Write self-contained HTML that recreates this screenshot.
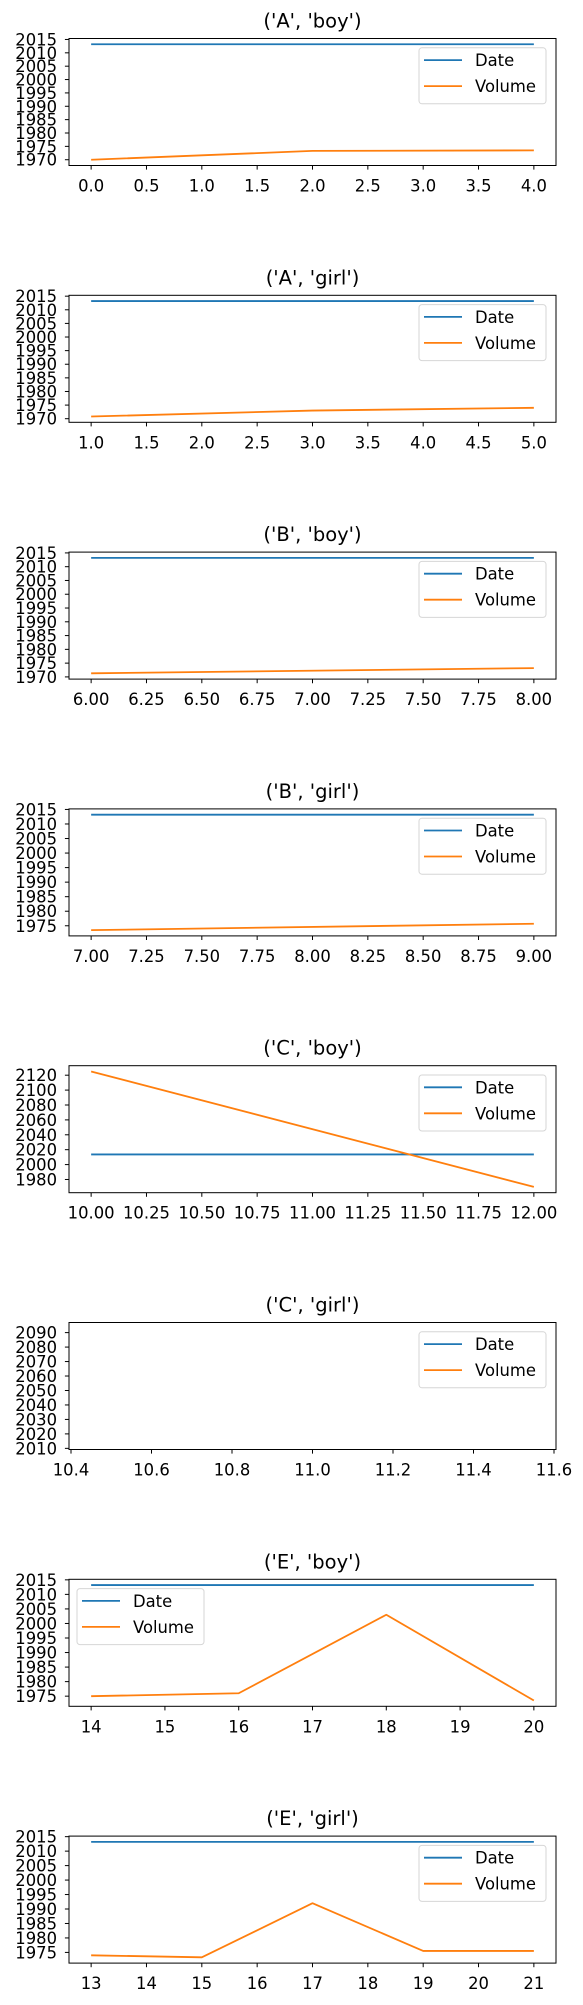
<!DOCTYPE html>
<html><head><meta charset="utf-8"><style>
html,body{margin:0;padding:0;background:#fff;}
svg{display:block;font-family:"DejaVu Sans","Liberation Sans",sans-serif;}
</style></head><body>
<svg id="chart" width="583" height="2005" viewBox="0 0 583 2005" xmlns="http://www.w3.org/2000/svg"></svg>
<script>
const titles = ["('A', 'boy')","('A', 'girl')","('B', 'boy')","('B', 'girl')","('C', 'boy')","('C', 'girl')","('E', 'boy')","('E', 'girl')"];
const xVals = [[0,2,4],[1,3,5],[6,8],[7,9],[10,12],[11],[14,16,18,20],[13,15,17,19,21]];
const dateVals = [[2013.2,2013.2,2013.2],[2013.2,2013.2,2013.2],[2013.2,2013.2],[2013.2,2013.2],[2013.6,2013.6],[2013.2],[2013.2,2013.2,2013.2,2013.2],[2013.2,2013.2,2013.2,2013.2,2013.2]];
const volumeVals = [[1970,1973.3,1973.5],[1970.8,1973,1974],[1971.3,1973.2],[1973.5,1975.7],[2125,1970],[2093],[1975,1976,2003,1973.5],[1974,1973.3,1992,1975.5,1975.5]];
const xTickLabels = [
 ["0.0","0.5","1.0","1.5","2.0","2.5","3.0","3.5","4.0"],
 ["1.0","1.5","2.0","2.5","3.0","3.5","4.0","4.5","5.0"],
 ["6.00","6.25","6.50","6.75","7.00","7.25","7.50","7.75","8.00"],
 ["7.00","7.25","7.50","7.75","8.00","8.25","8.50","8.75","9.00"],
 ["10.00","10.25","10.50","10.75","11.00","11.25","11.50","11.75","12.00"],
 ["10.4","10.6","10.8","11.0","11.2","11.4","11.6"],
 ["14","15","16","17","18","19","20"],
 ["13","14","15","16","17","18","19","20","21"]];
const yTickLabels = [
 ["1970","1975","1980","1985","1990","1995","2000","2005","2010","2015"],
 ["1970","1975","1980","1985","1990","1995","2000","2005","2010","2015"],
 ["1970","1975","1980","1985","1990","1995","2000","2005","2010","2015"],
 ["1975","1980","1985","1990","1995","2000","2005","2010","2015"],
 ["1980","2000","2020","2040","2060","2080","2100","2120"],
 ["2010","2020","2030","2040","2050","2060","2070","2080","2090"],
 ["1975","1980","1985","1990","1995","2000","2005","2010","2015"],
 ["1975","1980","1985","1990","1995","2000","2005","2010","2015"]];
const legendLoc = ["right","right","right","right","right","right","left","right"];
const seriesNames = ["Date","Volume"];

const NS="http://www.w3.org/2000/svg";
const svg=document.getElementById('chart');
function mk(tag,attrs,parent){const e=document.createElementNS(NS,tag);for(const k in attrs)e.setAttribute(k,attrs[k]);(parent||svg).appendChild(e);return e;}
const L=69,R=556,H=127,TOP0=38.5,STRIDE=256.8;
const colors=["#1f77b4","#ff7f0e"];
const FS=16.4;
for(let i=0;i<titles.length;i++){
  const top=TOP0+STRIDE*i, bot=top+H;
  const g=mk('g',{});
  
  
  const xs=xVals[i];
  let xmin=Math.min(...xs), xmax=Math.max(...xs);
  if(xmin===xmax){xmin-=0.55;xmax+=0.55;}
  const xm=(xmax-xmin)*0.05; xmin-=xm; xmax+=xm;
  const all=dateVals[i].concat(volumeVals[i]);
  let ymin=Math.min(...all), ymax=Math.max(...all);
  const ym=(ymax-ymin)*0.05; ymin-=ym; ymax+=ym;
  const sx=v=>L+(v-xmin)/(xmax-xmin)*(R-L);
  const sy=v=>bot-(v-ymin)/(ymax-ymin)*H;
  const t=mk('text',{x:(L+R)/2,y:top-11,'text-anchor':'middle','font-size':'19.5',fill:'#000'},g);
  t.textContent=titles[i];
  
  
  [dateVals[i],volumeVals[i]].forEach((ys,s)=>{
    if(xs.length<2) return;
    const pts=xs.map((x,k)=>sx(x).toFixed(2)+','+sy(ys[k]).toFixed(2)).join(' ');
    const p=mk('polyline',{points:pts,fill:'none',stroke:colors[s],'stroke-width':'1.8','stroke-linejoin':'round'},g);
    
    
  });
  xTickLabels[i].forEach(lab=>{
    const X=sx(parseFloat(lab));
    mk('line',{x1:X,x2:X,y1:bot,y2:bot+4.1,stroke:'#000','stroke-width':'1'},g);
    const tx=mk('text',{x:X,y:bot+26,'text-anchor':'middle','font-size':FS,fill:'#000'},g);
    tx.textContent=lab;
    
    
  });
  yTickLabels[i].forEach(lab=>{
    const Y=sy(parseFloat(lab));
    mk('line',{x1:L-4.1,x2:L,y1:Y,y2:Y,stroke:'#000','stroke-width':'1'},g);
    const ty=mk('text',{x:L-12,y:Y+6,'text-anchor':'end','font-size':FS,fill:'#000'},g);
    ty.textContent=lab;
    
    
  });
  const fr=mk('rect',{x:L,y:top,width:R-L,height:H,fill:'none',stroke:'#000','stroke-width':'1'},g);
  
  
  const lw=127, lh=56;
  const lx=legendLoc[i]==='right'?R-10-lw:L+8, ly=top+9.3;
  const lg=mk('g',{},g);
  
  
  mk('rect',{x:lx,y:ly,width:lw,height:lh,rx:3,fill:'#fff','fill-opacity':'0.8',stroke:'#d6d6d6','stroke-width':'1'},lg);
  seriesNames.forEach((n,s)=>{
    const ry=ly+12.3+s*26;
    mk('line',{x1:lx+5,x2:lx+43,y1:ry,y2:ry,stroke:colors[s],'stroke-width':'1.8'},lg);
    const lt=mk('text',{x:lx+56,y:ry+6,'font-size':FS,fill:'#000'},lg);
    lt.textContent=n;
    
    
  });
}
</script>
</body></html>
